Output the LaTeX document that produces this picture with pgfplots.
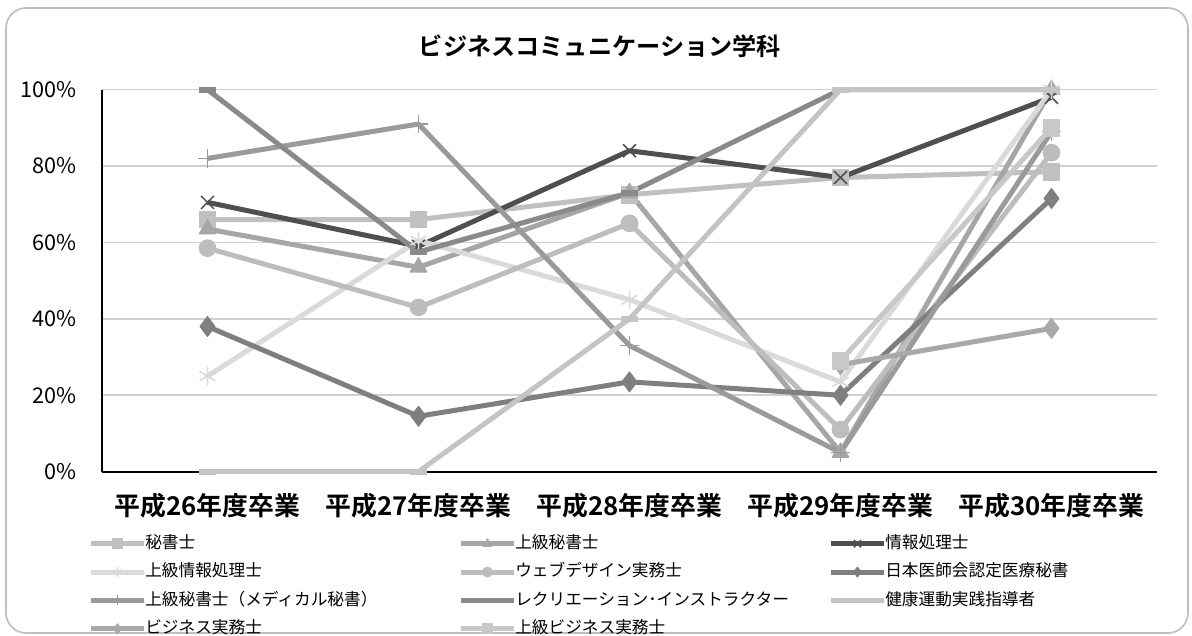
\documentclass[border=0pt]{standalone}
\usepackage{fontspec}
\setmainfont{Noto Sans CJK JP}[BoldFont={Noto Sans CJK JP Bold}]
\usepackage{pgfplots}
\pgfplotsset{compat=1.18}
\definecolor{sA}{HTML}{C0C0C0}
\definecolor{sB}{HTML}{A6A6A6}
\definecolor{sC}{HTML}{4F4F4F}
\definecolor{sD}{HTML}{DADADA}
\definecolor{sE}{HTML}{BDBDBD}
\definecolor{sF}{HTML}{7F7F7F}
\definecolor{sG}{HTML}{9A9A9A}
\definecolor{sH}{HTML}{8A8A8A}
\definecolor{sI}{HTML}{C4C4C4}
\definecolor{sJ}{HTML}{A9A9A9}
\definecolor{sK}{HTML}{C8C8C8}
\definecolor{gridc}{HTML}{D0D0D0}
\definecolor{framec}{HTML}{BFBFBF}
\newcommand{\legtxt}[1]{\makebox[187pt][l]{\hspace{-0.8pt}#1}}
\pgfplotsset{
  ser/.style n args={3}{color=#1, line width=3pt, line join=round, mark=#2, mark size=#3,
     mark options={solid, line width=0.6pt, fill=#1}},
  serthin/.style n args={3}{color=#1, line width=3pt, line join=round, mark=#2, mark size=#3,
     mark options={solid, line width=0.9pt}},
}
\begin{document}
\begin{tikzpicture}
\draw[color=framec, line width=1pt, rounded corners=12pt] (3.6pt,1.8pt) rectangle (712.8pt,376.8pt);
\node[font=\bfseries\fontsize{14.5}{16}\selectfont] at (360pt,354pt) {ビジネスコミュニケーション学科};
\begin{axis}[
  set layers,
  at={(61.2pt,98.6pt)}, anchor=south west,
  width=633pt, height=229.2pt, scale only axis,
  xmin=-0.5, xmax=4.5, ymin=0, ymax=100,
  clip=false,
  axis lines*=left,
  axis line style={black, line width=1.2pt},
  major tick length=0pt,
  xtick={0,1,2,3,4},
  xticklabels={平成26年度卒業,平成27年度卒業,平成28年度卒業,平成29年度卒業,平成30年度卒業},
  xticklabel style={font=\bfseries\fontsize{15.5}{18}\selectfont, anchor=center, yshift=-20.6pt},
  ytick={0,20,40,60,80,100},
  yticklabels={0\%,20\%,40\%,60\%,80\%,100\%},
  yticklabel style={font=\fontsize{13}{15}\selectfont, anchor=east, inner sep=0pt, xshift=-15pt},
  ymajorgrids,
  grid style={color=gridc, line width=1pt},
  legend columns=3,
  legend cell align=left,
  legend image code/.code={
    \draw[#1, mark=none] (0pt,0pt) -- (32pt,0pt);
    \draw[#1, mark size=3pt] plot coordinates {(16pt,0pt)};
  },
  legend style={draw=none, fill=none, at={(-0.0133,-0.165)}, anchor=north west,
    inner sep=0pt, row sep=6.5pt, column sep=0pt,
    nodes={inner sep=0pt, text height=8pt, text depth=2.5pt, font=\fontsize{10}{12}\selectfont}},
]
\addplot[ser={sA}{square*}{5pt}] coordinates {(0,66) (1,66) (2,72.5) (3,77) (4,78.5)};
\addlegendentry{\legtxt{秘書士}}
\addplot[ser={sB}{triangle*}{5.8pt}] coordinates {(0,63.5) (1,53.5) (2,73) (3,5) (4,100)};
\addlegendentry{\legtxt{上級秘書士}}
\addplot[serthin={sC}{x}{5.5pt}] coordinates {(0,70.5) (1,59) (2,84) (3,77) (4,98)};
\addlegendentry{\legtxt{情報処理士}}
\addplot[serthin={sD}{asterisk}{5.5pt}] coordinates {(0,25) (1,60.5) (2,45) (3,23.5) (4,100)};
\addlegendentry{\legtxt{上級情報処理士}}
\addplot[ser={sE}{*}{5pt}] coordinates {(0,58.5) (1,43) (2,65) (3,11) (4,83.5)};
\addlegendentry{\legtxt{ウェブデザイン実務士}}
\addplot[ser={sF}{diamond*}{6pt}] coordinates {(0,38) (1,14.5) (2,23.5) (3,20) (4,71.5)};
\addlegendentry{\legtxt{日本医師会認定医療秘書}}
\addplot[serthin={sG}{+}{5.5pt}] coordinates {(0,82) (1,91) (2,33) (3,5) (4,89)};
\addlegendentry{\legtxt{上級秘書士（メディカル秘書）}}
\addplot[color=sH, line width=3pt, line join=round, mark=-, mark size=5pt, mark options={solid, line width=3.5pt}] coordinates {(0,100) (1,57.5) (2,73) (3,100) (4,100)};
\addlegendentry{\legtxt{レクリエーション･インストラクター}}
\addplot[color=sI, line width=3pt, line join=round, mark=-, mark size=5pt, mark options={solid, line width=3.5pt}] coordinates {(0,0) (1,0) (2,40) (3,100) (4,100)};
\addlegendentry{\legtxt{健康運動実践指導者}}
\addplot[ser={sJ}{diamond*}{6pt}] coordinates {(3,28) (4,37.5)};
\addlegendentry{\legtxt{ビジネス実務士}}
\addplot[ser={sK}{square*}{5pt}] coordinates {(3,29) (4,90)};
\addlegendentry{\legtxt{上級ビジネス実務士}}
\end{axis}
\pgfresetboundingbox
\path (0,0) rectangle (715.2pt,381.6pt);
\end{tikzpicture}
\end{document}
